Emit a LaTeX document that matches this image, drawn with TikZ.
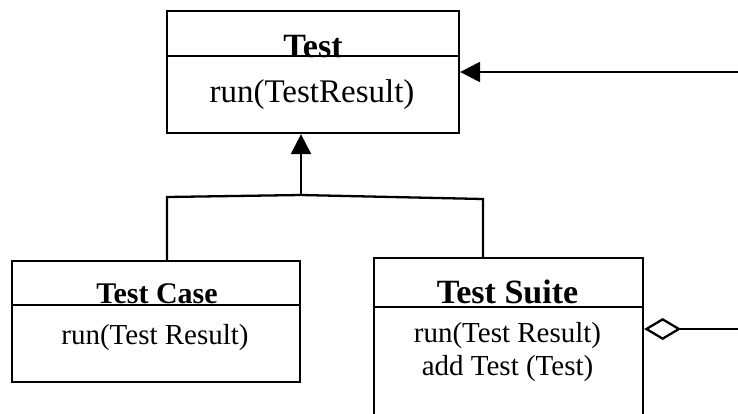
\documentclass[tikz,border=0pt]{standalone}
\usepackage{fontspec}
\setmainfont{Liberation Serif}
\usetikzlibrary{arrows.meta}

\tikzset{
  classbox/.style={draw, line width=2.3pt, inner sep=0pt},
  divider/.style={line width=2.3pt},
  classname/.style={font=\fontsize{34}{36}\selectfont\bfseries, anchor=base, inner sep=0pt},
  method/.style={font=\fontsize{29}{33}\selectfont, align=center, inner sep=0pt},
  inherit/.style={line width=2.3pt, -{Triangle[length=20pt, width=20pt]}},
  aggregate/.style={line width=2.3pt, {Diamond[open, length=37pt, width=22pt]}-},
}

\begin{document}
\begin{tikzpicture}[x=1pt, y=-1pt]
  \useasboundingbox (0,0) rectangle (738,413);
  \clip (0,0) rectangle (738,413);

  % Class Test
  \node [classbox, minimum width=292pt, minimum height=122pt] (test) at (313,72) {};
  \node [classname] (testname) at (313,57) {Test};
  \draw [divider] (test.west |- 0,56) -- (test.east |- 0,56);
  \node [method, font=\fontsize{33}{36}\selectfont] (testrun) at (312,95) {run(TestResult)};

  % Class Test Case
  \node [classbox, minimum width=288pt, minimum height=121pt] (testcase) at (156,321.5) {};
  \node [classname, font=\fontsize{30}{32}\selectfont\bfseries] (casename) at (157,303) {Test Case};
  \draw [divider] (testcase.west |- 0,305) -- (testcase.east |- 0,305);
  \node [method] (caserun) at (155,338) {run(Test Result)};

  % Class Test Suite (runs past the lower edge)
  \node [classbox, minimum width=269pt, minimum height=172pt] (suite) at (508.5,344) {};
  \node [classname] (suitename) at (507.5,303) {Test Suite};
  \draw [divider] (suite.west |- 0,307) -- (suite.east |- 0,307);
  \node [method] (suiterun) at (507.5,352) {run(Test Result)\\add Test (Test)};

  % Generalisation
  \coordinate (join) at (301,195);
  \coordinate (casebend) at (167,197);
  \coordinate (suitebend) at (483,199);
  \draw [inherit] (join) -- (test.south -| join);
  \draw [divider] (testcase.north -| casebend) -- (casebend) -- (join)
    -- (suitebend) -- (suite.north -| suitebend);

  % Links to the right
  \coordinate (runin) at (738,72);
  \draw [inherit] (runin) -- (test.east |- runin);
  \coordinate (partsout) at (738,329);
  \draw [aggregate] (suite.east |- partsout) -- (partsout);
\end{tikzpicture}
\end{document}
